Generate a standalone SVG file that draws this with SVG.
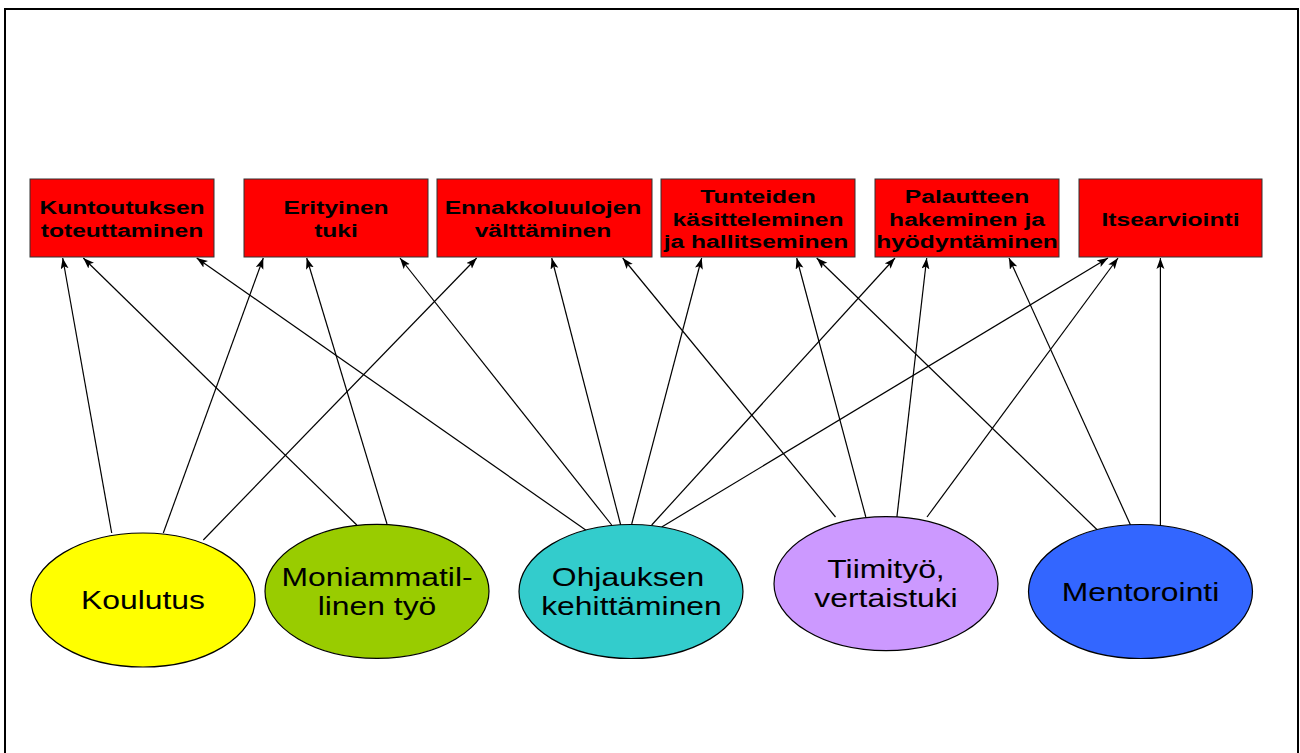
<svg xmlns="http://www.w3.org/2000/svg" width="1300" height="753" viewBox="0 0 1300 753">
<defs>
<style>
.box{fill:#FF0000;stroke:#333333;stroke-width:1}
.bt{font-family:"Liberation Sans",Arial,sans-serif;font-weight:bold;font-size:18.5px;fill:#000;text-anchor:middle}
.et{font-family:"Liberation Sans",Arial,sans-serif;font-size:25px;fill:#000;text-anchor:middle}
.ell{stroke:#000;stroke-width:1.2}
.con line{stroke:#000;stroke-width:1.2;marker-end:url(#ah)}
</style>
<marker id="ah" markerUnits="userSpaceOnUse" markerWidth="12" markerHeight="10" refX="11" refY="4" orient="auto">
<path d="M0,0 L11,4 L0,8 L2.5,4 z" fill="#000"/>
</marker>
</defs>
<rect width="1300" height="753" fill="#fff"/>
<path d="M5,753 V9 H1298 V753" fill="none" stroke="#000" stroke-width="2"/>

<g id="connectors" class="con">
<line x1="111.7" y1="533" x2="62.7" y2="258"/>
<line x1="163.3" y1="533" x2="263.3" y2="258"/>
<line x1="203.3" y1="540" x2="476.7" y2="258"/>
<line x1="356.8" y1="525" x2="83.3" y2="258"/>
<line x1="387" y1="524" x2="306.7" y2="258"/>
<line x1="590" y1="533" x2="196.7" y2="258"/>
<line x1="611.7" y1="525" x2="400" y2="258"/>
<line x1="620.7" y1="525" x2="551.7" y2="258"/>
<line x1="631.7" y1="524" x2="701.7" y2="258"/>
<line x1="651.7" y1="525" x2="895" y2="258"/>
<line x1="661.7" y1="527" x2="1108" y2="258"/>
<line x1="835.5" y1="517" x2="622.7" y2="258"/>
<line x1="865.8" y1="517" x2="796.7" y2="258"/>
<line x1="896.9" y1="517" x2="926.7" y2="258"/>
<line x1="927" y1="517" x2="1118" y2="258"/>
<line x1="1100.2" y1="532.7" x2="816.7" y2="258"/>
<line x1="1130.5" y1="525" x2="1009" y2="258"/>
<line x1="1160.4" y1="525" x2="1160.4" y2="258"/>
</g>

<g id="box-kuntoutuksen">
<rect class="box" x="30" y="179" width="184" height="78"/>
<text class="bt" transform="translate(122 214.3) scale(1.33 1)">Kuntoutuksen</text>
<text class="bt" transform="translate(122 236.7) scale(1.33 1)">toteuttaminen</text>
</g>
<g id="box-erityinen">
<rect class="box" x="244" y="179" width="184" height="78"/>
<text class="bt" transform="translate(336 214.3) scale(1.33 1)">Erityinen</text>
<text class="bt" transform="translate(336 236.7) scale(1.33 1)">tuki</text>
</g>
<g id="box-ennakkoluulojen">
<rect class="box" x="437" y="179" width="215" height="78"/>
<text class="bt" transform="translate(543 214.3) scale(1.33 1)">Ennakkoluulojen</text>
<text class="bt" transform="translate(543 236.7) scale(1.33 1)">välttäminen</text>
</g>
<g id="box-tunteiden">
<rect class="box" x="661" y="179" width="194" height="78"/>
<text class="bt" transform="translate(758 203) scale(1.33 1)">Tunteiden</text>
<text class="bt" transform="translate(758 225.5) scale(1.33 1)">käsitteleminen</text>
<text class="bt" transform="translate(756 248) scale(1.33 1)">ja hallitseminen</text>
</g>
<g id="box-palautteen">
<rect class="box" x="875" y="179" width="184" height="78"/>
<text class="bt" transform="translate(967 203) scale(1.33 1)">Palautteen</text>
<text class="bt" transform="translate(967 225.5) scale(1.33 1)">hakeminen ja</text>
<text class="bt" transform="translate(967 248) scale(1.33 1)">hyödyntäminen</text>
</g>
<g id="box-itsearviointi">
<rect class="box" x="1079" y="179" width="183" height="78"/>
<text class="bt" transform="translate(1170.5 225.5) scale(1.33 1)">Itsearviointi</text>
</g>

<g id="node-koulutus">
<ellipse class="ell" cx="143" cy="600" rx="112" ry="67" fill="#FFFF00"/>
<text class="et" transform="translate(143 609) scale(1.275 1)">Koulutus</text>
</g>
<g id="node-moniammatillinen">
<ellipse class="ell" cx="377" cy="591.3" rx="112" ry="67" fill="#99CC00"/>
<text class="et" transform="translate(377 586) scale(1.275 1)">Moniammatil-</text>
<text class="et" transform="translate(377 615) scale(1.275 1)">linen työ</text>
</g>
<g id="node-ohjauksen">
<ellipse class="ell" cx="631" cy="591.5" rx="112" ry="67" fill="#33CCCC"/>
<text class="et" transform="translate(628 586) scale(1.275 1)">Ohjauksen</text>
<text class="et" transform="translate(631.5 615) scale(1.275 1)">kehittäminen</text>
</g>
<g id="node-tiimityo">
<ellipse class="ell" cx="886" cy="583.7" rx="112" ry="67" fill="#CC99FF"/>
<text class="et" transform="translate(886 578) scale(1.275 1)">Tiimityö,</text>
<text class="et" transform="translate(886 607) scale(1.275 1)">vertaistuki</text>
</g>
<g id="node-mentorointi">
<ellipse class="ell" cx="1140.5" cy="591.5" rx="112" ry="67" fill="#3366FF"/>
<text class="et" transform="translate(1140.5 600.5) scale(1.275 1)">Mentorointi</text>
</g>
</svg>
